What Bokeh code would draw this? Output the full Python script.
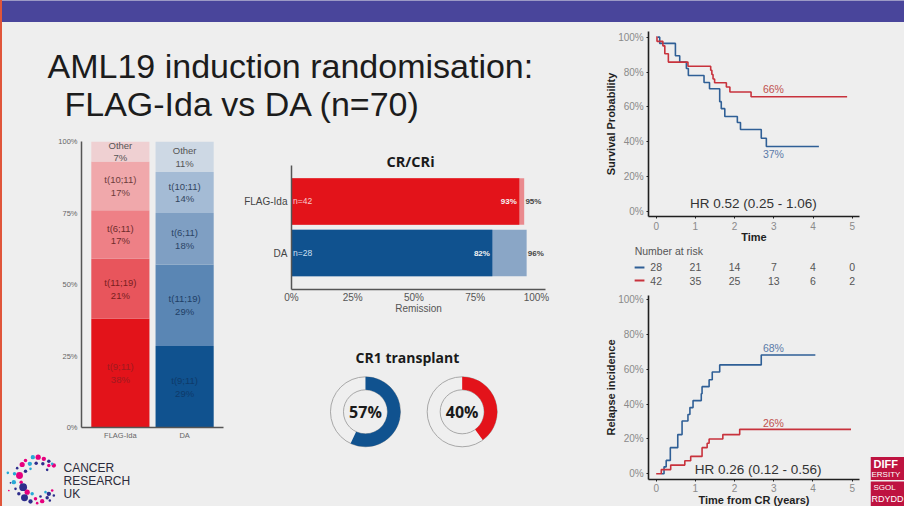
import math
from bokeh.plotting import figure
from bokeh.layouts import column, row
from bokeh.models import Range1d, FactorRange, GlobalInlineStyleSheet
from bokeh.core.properties import value
from bokeh.embed import file_html
from bokeh.resources import INLINE

# ---------- data ----------
title_lines = ["AML19 induction randomisation:", "FLAG-Ida vs DA (n=70)"]

stack_arms = ["FLAG-Ida", "DA"]
stack_groups = ["t(9;11)", "t(11;19)", "t(6;11)", "t(10;11)", "Other"]
flag_values = [38, 21, 17, 17, 7]
da_values = [28.5, 28.5, 18, 14.3, 10.7]
flag_labels = ["38%", "21%", "17%", "17%", "7%"]
da_labels = ["29%", "29%", "18%", "14%", "11%"]
stack_ticks = [0, 25, 50, 75, 100]
stack_tick_labels = ["0%", "25%", "50%", "75%", "100%"]

cr_arms = ["DA", "FLAG-Ida"]
cr_values = [82, 93]
cri_values = [96, 95]
cr_n = ["n=28", "n=42"]
cr_ticks = [0, 25, 50, 75, 100]
cr_tick_labels = ["0%", "25%", "50%", "75%", "100%"]

donut_values = [57, 40]

km_ticks_x = [0, 1, 2, 3, 4, 5]
km_ticks_y = [0, 20, 40, 60, 80, 100]
km_tick_labels = ["0%", "20%", "40%", "60%", "80%", "100%"]

os_da_t = [0.03, 0.09, 0.49, 0.60, 0.77, 0.82, 1.22, 1.36, 1.62, 1.66, 1.75, 2.07, 2.15, 2.68, 2.81, 4.15]
os_da_y = [100, 96.4, 89.3, 85.7, 82, 78, 74, 70.4, 63, 59, 54.5, 51, 47, 42, 37.3, 37.3]
os_flag_t = [0, 0.02, 0.17, 0.22, 0.31, 0.81, 1.39, 1.42, 1.45, 1.49, 1.79, 1.88, 2.42, 4.87]
os_flag_y = [100, 97.6, 95, 90.5, 85.7, 83.3, 81, 78.6, 76, 73.8, 71.4, 68.5, 65.8, 65.8]

risk_times = [0, 1, 2, 3, 4, 5]
risk_da = [28, 21, 14, 7, 4, 0]
risk_flag = [42, 35, 25, 13, 6, 2]

ri_da_t = [0.13, 0.20, 0.255, 0.36, 0.55, 0.66, 0.81, 0.86, 0.94, 1.15, 1.17, 1.35, 1.43, 1.62, 2.68, 4.06]
ri_da_y = [0, 4, 7.7, 15, 22.5, 30.3, 34, 38, 42, 46, 50, 54, 58.4, 62.5, 68.2, 68.2]
ri_flag_t = [0, 0.13, 0.37, 0.73, 0.88, 1.17, 1.30, 1.35, 1.70, 2.13, 4.97]
ri_flag_y = [0, 2.4, 5, 7.5, 10, 15, 17.5, 20, 22.5, 25.5, 25.5]

# logo dots: x, y, radius, colour key
logo_x = [97, 113, 130, 145, 160, 127, 107, 88, 75, 65, 50, 22, 57, 42, 75, 90, 40, 62, 30, 45, 68, 25,
          55, 80, 72, 95, 105, 90, 120, 125, 110, 140, 145, 155, 135, 160, 148, 145, 140, 155, 120]
logo_y = [50, 50, 55, 62, 75, 70, 68, 70, 60, 72, 83, 97, 105, 100, 92, 85, 125, 125, 127, 145, 140, 150,
          160, 155, 172, 160, 175, 183, 168, 182, 188, 172, 160, 150, 155, 165, 180, 75, 88, 70, 85]
logo_r = [5, 6, 5, 4, 5, 4, 4, 5, 4, 6, 3, 3, 8, 4, 4, 3, 5, 4, 2, 3, 9, 2,
          4, 6, 8, 4, 4, 5, 3, 5, 3, 4, 5, 3, 3, 3, 3, 4, 3, 3, 2]
logo_k = "tppnpnntppntptnttpnnn" + "pnpntpnnppnnptnnpnt"
logo_words = ["CANCER", "RESEARCH", "UK"]

# ---------- styling ----------
BG = "#eeeeee"
SANS = value("Liberation Sans")
HUM = value("Open Sans")
RED, BLUE = "#e3131a", "#10528f"
KM_RED, KM_BLUE = "#c8323c", "#2f5f96"
flag_colors = ["#e3131a", "#e8555c", "#ee8086", "#f0a8ab", "#efd0d2"]
da_colors = ["#10528f", "#5a86b4", "#7f9fc3", "#a4bbd5", "#cdd8e4"]
flag_text = ["#a01a1f", "#7a2020", "#6e2c2c", "#6e3c3c", "#555555"]
da_text = ["#0e3a6a", "#1f3f66", "#2b4566", "#33465f", "#555555"]


def fig(w, h, xr, yr, l=0, r=0, t=0, b=0, axes=False):
    kw = {} if axes else dict(x_axis_location=None, y_axis_location=None)
    p = figure(width=w, height=h, x_range=xr, y_range=yr, output_backend="svg",
               toolbar_location=None, min_border_left=l, min_border_right=r,
               min_border_top=t, min_border_bottom=b, background_fill_color=BG,
               border_fill_color=BG, outline_line_color=None, frame_align=False, **kw)
    p.grid.visible = False
    return p


def txt(p, x, y, s, size, color="#333333", font=SANS, style="normal", align="center", baseline="middle", lh=1.15):
    p.text(x=[x], y=[y], text=[s], text_font=font, text_font_size=f"{size}px", text_color=color,
           text_font_style=style, text_align=align, text_baseline=baseline, text_line_height=lh)


def style_axis(ax, size, color, line="#555555", lw=1.5, tick=0):
    ax.major_label_text_font = "Liberation Sans"
    ax.major_label_text_font_size = f"{size}px"
    ax.major_label_text_color = color
    ax.axis_line_color = line
    ax.axis_line_width = lw
    ax.major_tick_in = 0
    ax.major_tick_out = tick
    ax.major_tick_line_color = line if tick else None
    ax.minor_tick_line_color = None
    ax.axis_label_text_font = "Liberation Sans"
    ax.axis_label_text_font_style = "normal"


# ---------- page pieces ----------
band = fig(904, 22, Range1d(0, 1), Range1d(0, 1))
band.background_fill_color = "#49459b"
band.border_fill_color = "#49459b"

# title (axis ranges follow the page)
tp = fig(590, 108, Range1d(0, 590), Range1d(130, 22))
txt(tp, 47, 65, title_lines[0], 34, "#1c1c1c", align="left")
txt(tp, 64, 103, title_lines[1], 34, "#1c1c1c", align="left")

# stacked bars
sp = fig(235, 315, FactorRange(factors=stack_arms, range_padding=0.105, range_padding_units="absolute"),
         Range1d(0, 100), l=81, r=12, t=11, b=18, axes=True)
for arm, vals, cols, txts, labs in [("FLAG-Ida", flag_values, flag_colors, flag_text, flag_labels),
                                    ("DA", da_values, da_colors, da_text, da_labels)]:
    base = 0
    for g, v, c, tc, lab in zip(stack_groups, vals, cols, txts, labs):
        sp.vbar(x=[arm], bottom=[base], top=[base + v], width=0.905, fill_color=c, line_color=None)
        sp.text(x=[arm], y=[base + v / 2], text=[f"{g}\n{lab}"], text_font=SANS, text_font_size="9.5px",
                text_color=tc, text_align="center", text_baseline="middle", text_line_height=1.15)
        base += v
sp.yaxis.ticker = stack_ticks
sp.yaxis.major_label_overrides = dict(zip(stack_ticks, stack_tick_labels))
style_axis(sp.yaxis[0], 7.5, "#666666")
style_axis(sp.xaxis[0], 7.5, "#666666")
sp.yaxis.major_label_standoff = 4
sp.xaxis.major_label_standoff = 3

# CRUK logo (axis ranges follow the page)
lg = fig(235, 61, Range1d(0, 235), Range1d(506, 445))
palette = {"p": "#e6007e", "n": "#2e2d8c", "t": "#27a9d6"}
lg.scatter(x=[v / 3 for v in logo_x], y=[440 + v / 3 for v in logo_y], size=[2.6 * v / 3 for v in logo_r],
           fill_color=[palette[k] for k in logo_k], line_color=None)
for word, yy in zip(logo_words, [467.5, 480, 493]):
    txt(lg, 63, yy, word, 12, "#2b2b3a", align="left")

# CR / CRi bars: one band of the vertical scale per arm
cp = fig(355, 190, Range1d(0, 103.7), Range1d(0, 2.694), l=56, r=45, t=20, b=31, axes=True)
arm_y = [i + 0.707 for i in range(len(cr_arms))]
for i, arm in enumerate(cr_arms):
    light, solid, nc = ("#8aa6c6", BLUE, "#cfe0f2") if i == 0 else ("#ea8a8e", RED, "#f8cccc")
    cp.hbar(y=[arm_y[i]], left=[0], right=[cri_values[i]], height=0.9, fill_color=light, line_color=None)
    cp.hbar(y=[arm_y[i]], left=[0], right=[cr_values[i]], height=0.9, fill_color=solid, line_color=None)
    cp.text(x=[0.6], y=[arm_y[i]], text=[cr_n[i]], text_font=SANS, text_font_size="8.5px",
            text_color=nc, text_baseline="middle")
    cp.text(x=[cr_values[i] - 1], y=[arm_y[i]], text=[f"{cr_values[i]}%"], text_font=SANS, text_font_size="8px",
            text_font_style="bold", text_color="#f4f4f4", text_align="right", text_baseline="middle")
    cp.text(x=[cri_values[i] + 0.5], y=[arm_y[i]], text=[f"{cri_values[i]}%"], text_font=SANS, text_font_size="8px",
            text_font_style="bold", text_color="#444444", text_baseline="middle")
cp.xaxis.ticker = cr_ticks
cp.xaxis.major_label_overrides = dict(zip(cr_ticks, cr_tick_labels))
cp.yaxis.ticker = arm_y
cp.yaxis.major_label_overrides = dict(zip(arm_y, cr_arms))
cp.yaxis.bounds = (0, 2.403)
style_axis(cp.xaxis[0], 10, "#555555")
style_axis(cp.yaxis[0], 10, "#444444")
cp.xaxis.axis_label = "Remission"
cp.xaxis.axis_label_text_font_size = "10px"
cp.xaxis.axis_label_text_color = "#555555"
cp.xaxis.axis_label_standoff = -3
cp.xaxis.major_label_standoff = 2
cp.yaxis.major_label_standoff = 4
txt(cp, 48.6, 2.489, "CR/CRi", 14.5, "#1a1a1a", font=HUM, style="bold")

# donuts
dp = fig(355, 186, Range1d(-1.344, 2.327), Range1d(-0.979, 0.944))
donut_cols = [BLUE, RED]
for i, v in enumerate(donut_values):
    dp.annular_wedge(x=[i], y=[0], inner_radius=22, outer_radius=35, inner_radius_units="screen",
                     outer_radius_units="screen", start_angle=0, end_angle=2 * math.pi,
                     fill_color="#efefef", line_color="#a8a8a8", line_width=1)
    dp.annular_wedge(x=[i], y=[0], inner_radius=22, outer_radius=35, inner_radius_units="screen",
                     outer_radius_units="screen", start_angle=math.pi / 2,
                     end_angle=math.pi / 2 - 2 * math.pi * v / 100, direction="clock",
                     fill_color=donut_cols[i], line_color=None)
    dp.text(x=[i], y=[0], text=[f"{v}%"], text_font=HUM, text_font_size="16px", text_font_style="bold",
            text_color="#1a1a1a", text_align="center", text_baseline="middle")
txt(dp, 0.434, 0.56, "CR1 transplant", 14, "#1a1a1a", font=HUM, style="bold")


def km(w, h, xr, yr, top, t_a, y_a, t_b, y_b, xlabel, ylabel, labels, hr):
    """Axes sit at fixed places inside an enlarged frame, so labels below the plot keep their pixels."""
    p = fig(w, h, Range1d(*xr), Range1d(*yr), axes=True)
    p.step(t_a, y_a, mode="after", line_color=KM_BLUE, line_width=1.6)
    p.step(t_b, y_b, mode="after", line_color=KM_RED, line_width=1.6)
    p.xaxis.ticker = km_ticks_x
    p.yaxis.ticker = km_ticks_y
    p.yaxis.major_label_overrides = dict(zip(km_ticks_y, km_tick_labels))
    p.xaxis.fixed_location = -3
    p.yaxis.fixed_location = -0.19
    p.xaxis.bounds = (-0.19, 5.19)
    p.yaxis.bounds = (-3, top)
    for ax in (p.xaxis[0], p.yaxis[0]):
        style_axis(ax, 10, "#8a8a8a", line="#1f1f1f", lw=1.6, tick=2)
        ax.axis_label_text_font_style = "bold"
        ax.axis_label_text_font_size = "11px"
        ax.axis_label_text_color = "#1f1f1f"
        ax.major_label_standoff = 3
        ax.axis_label_standoff = -2
    p.xaxis.axis_label = xlabel
    p.yaxis.axis_label = ylabel
    for x, y, s, c in labels:
        txt(p, x, y, s, 10.5, c)
    txt(p, hr[0], hr[1], hr[2], 13.5, "#333333")
    return p


k1 = km(314, 265, (-1.676, 6.334), (-43.6, 108.4), 103.3, os_da_t, os_da_y, os_flag_t, os_flag_y,
        "Time", "Survival Probability",
        [(2.99, 70, "66%", "#c0504d"), (2.99, 32.7, "37%", "#5a7aa8")], (2.48, 4.6, "HR 0.52 (0.25 - 1.06)"))
# number at risk, on the time scale of the plot
txt(k1, -0.55, -22.4, "Number at risk", 10.5, "#555555", align="left")
for vals, yy, c in [(risk_da, -32.1, KM_BLUE), (risk_flag, -39.6, KM_RED)]:
    k1.segment(x0=[-0.55], x1=[-0.30], y0=[yy], y1=[yy], line_color=c, line_width=2)
    k1.text(x=risk_times, y=[yy] * len(vals), text=[str(v) for v in vals], text_font=SANS, text_font_size="10.5px",
            text_color="#555555", text_align="center", text_baseline="middle")

k2 = km(280, 219, (-1.676, 5.467), (-18.76, 106.9), 102.5, ri_da_t, ri_da_y, ri_flag_t, ri_flag_y,
        "Time from CR (years)", "Relapse incidence",
        [(2.99, 71.9, "68%", "#5a7aa8"), (2.99, 29.4, "26%", "#c0504d")], (2.6, 2.5, "HR 0.26 (0.12 - 0.56)"))

# university crest (axis ranges follow the page)
cr = fig(34, 219, Range1d(870, 904), Range1d(506, 287))
cr.quad(left=[870, 870], right=[904, 904], top=[456.5, 481], bottom=[479.5, 506], fill_color="#be1340", line_color=None)
txt(cr, 873, 463, "DIFF", 11, "#ffffff", align="left", style="bold")
txt(cr, 871, 474, "ERSITY", 8, "#ffffff", align="left")
txt(cr, 873, 487, "SGOL", 8, "#ffffff", align="left")
txt(cr, 871, 498.5, "RDYDD", 9, "#ffffff", align="left")

left = column(tp, row(column(sp, lg, spacing=0), column(cp, dp, spacing=0), spacing=0), spacing=0)
right = column(k1, row(k2, cr, spacing=0), spacing=0)
p = column(band, row(left, right, spacing=0), spacing=0)
p.stylesheets = [GlobalInlineStyleSheet(css="html,body{background:#eeeeee;overflow:hidden}"
                 "body::before{content:'';position:fixed;left:0;top:0;bottom:0;width:2px;background:#e0553a;z-index:9}")]

open("out.html", "w").write(file_html(p, INLINE))
